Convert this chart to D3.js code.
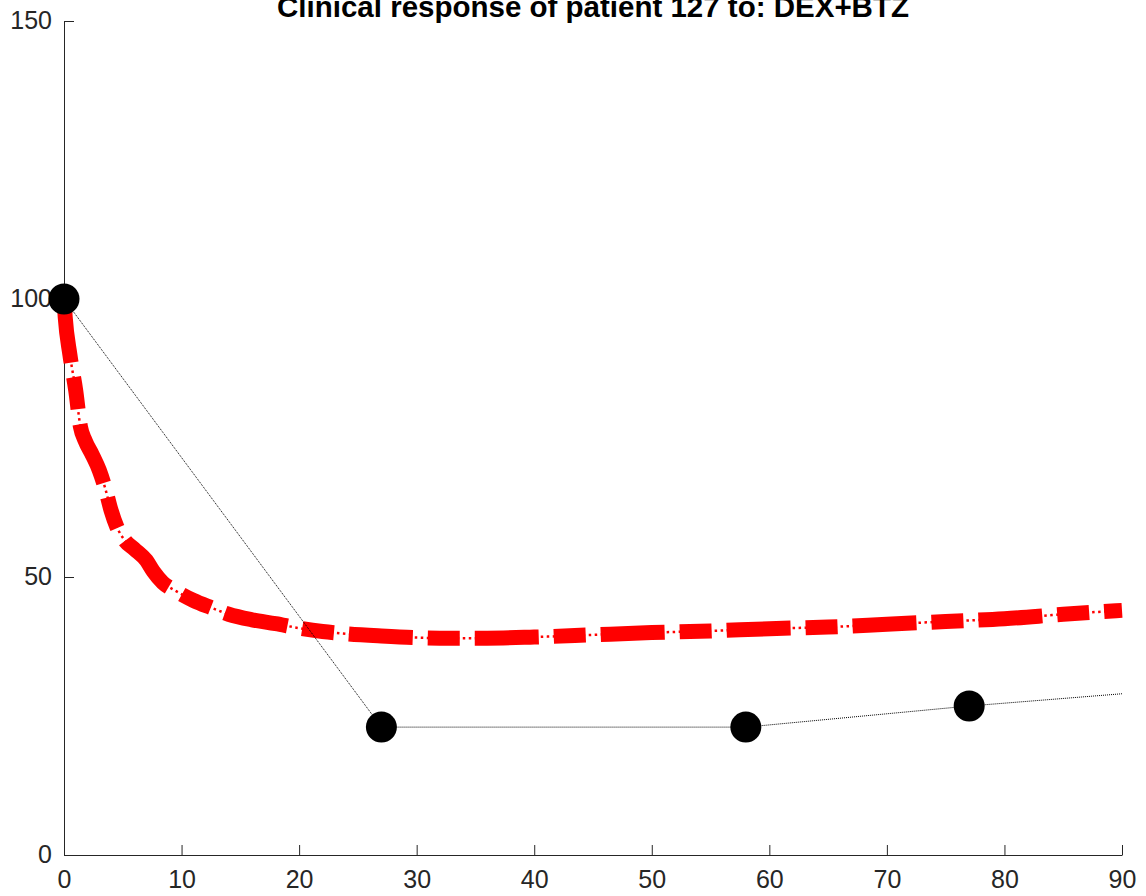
<!DOCTYPE html>
<html>
<head>
<meta charset="utf-8">
<script src="https://cdn.jsdelivr.net/npm/d3@7"></script>
<style>
  html, body { margin: 0; padding: 0; background: #fff; }
  svg { display: block; }
  text { font-family: "Liberation Sans", Arial, Helvetica, sans-serif; }
</style>
</head>
<body>
<svg id="chart" width="1146" height="896"></svg>
<script>
// ---- data ----
const titleText = "Clinical response of patient 127 to: DEX+BTZ";
const modelDays = [0, 0.1, 0.5, 1.0, 1.4, 1.8, 2.4, 3.0, 3.5, 4.0, 4.5, 5.2, 6.0, 7.0, 7.6, 8.4, 9.5, 11, 12.5, 14, 16, 18, 20, 22, 24, 27, 30, 33, 36, 40, 45, 50, 55, 60, 65, 70, 75, 80, 85, 90];
const modelValues = [100, 96.8, 90, 83.5, 77, 74.5, 72, 69.2, 66, 62, 59, 56.5, 55, 53, 51, 49, 47.5, 45.8, 44.5, 43.3, 42.3, 41.6, 40.8, 40.2, 39.8, 39.4, 39.1, 39.0, 39.0, 39.2, 39.6, 40.0, 40.3, 40.7, 41.0, 41.5, 42.0, 42.5, 43.3, 44.0];
const measuredDays = [0, 27, 58, 77];
const measuredValues = [100, 23, 23, 26.8];
const measuredLineDays = [0, 27, 58, 77, 90];
const measuredLineValues = [100, 23, 23, 26.8, 29.0];
const xTicks = [0, 10, 20, 30, 40, 50, 60, 70, 80, 90];
const yTicks = [0, 50, 100, 150];

(function () {
// ---- layout ----
const svg = d3.select("#chart");
const pLeft = 64, pRight = 1122, pTop = 21, pBottom = 855;
const x = d3.scaleLinear().domain([0, 90]).range([pLeft, pRight]);
const y = d3.scaleLinear().domain([0, 150]).range([pBottom, pTop]);
const axisColor = "#262626";

// title
svg.append("text")
  .attr("x", (pLeft + pRight) / 2)
  .attr("y", 17)
  .attr("text-anchor", "middle")
  .attr("font-size", 29.5)
  .attr("font-weight", "bold")
  .attr("fill", "#000")
  .text(titleText);

// axes
const xAxis = d3.axisBottom(x).tickValues(xTicks).tickSizeInner(-10).tickSizeOuter(0).tickPadding(15).tickFormat(d3.format("d"));
const yAxis = d3.axisLeft(y).tickValues(yTicks).tickSizeInner(-10).tickSizeOuter(0).tickPadding(12).tickFormat(d3.format("d"));

const gx = svg.append("g").attr("transform", `translate(0,${pBottom})`).call(xAxis);
const gy = svg.append("g").attr("transform", `translate(${pLeft},0)`).call(yAxis);
[gx, gy].forEach(g => {
  g.select(".domain").attr("stroke", axisColor).attr("stroke-width", 1);
  g.selectAll(".tick line").attr("stroke", axisColor).attr("stroke-width", 1);
  g.selectAll(".tick text").attr("fill", axisColor).attr("font-size", 25)
    .attr("font-family", "'Liberation Sans', Arial, Helvetica, sans-serif");
});
gx.selectAll(".tick text").attr("dy", "0.71em");
gy.selectAll(".tick text").attr("dy", "0.28em");

// model curve
const modelData = modelDays.map((d, i) => [d, modelValues[i]]);
const lineGen = d3.line().x(d => x(d[0])).y(d => y(d[1])).curve(d3.curveMonotoneX);
svg.append("path")
  .datum(modelData)
  .attr("d", lineGen)
  .attr("fill", "none")
  .attr("stroke", "#ff0000")
  .attr("stroke-width", 15)
  .attr("stroke-dasharray", "64,15,32,15")
  .attr("stroke-linecap", "butt")
  .attr("stroke-linejoin", "round");
svg.append("path")
  .datum(modelData)
  .attr("d", lineGen)
  .attr("fill", "none")
  .attr("stroke", "#ff0000")
  .attr("stroke-width", 2.5)
  .attr("stroke-dasharray", "2.5,3.5");

// measured line
const measLine = measuredLineDays.map((d, i) => [d, measuredLineValues[i]]);
svg.append("path")
  .datum(measLine)
  .attr("d", d3.line().x(d => x(d[0])).y(d => y(d[1])))
  .attr("fill", "none")
  .attr("stroke", "#000")
  .attr("stroke-width", 1)
  .attr("stroke-dasharray", "1,1");

// markers
svg.append("g").selectAll("circle")
  .data(measuredDays.map((d, i) => [d, measuredValues[i]]))
  .join("circle")
  .attr("cx", d => x(d[0]))
  .attr("cy", d => y(d[1]))
  .attr("r", 15.5)
  .attr("fill", "#000");
})();
</script>
</body>
</html>
